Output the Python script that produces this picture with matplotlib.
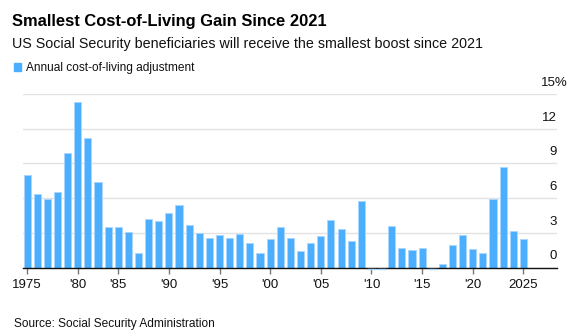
import matplotlib
matplotlib.use('Agg')
import matplotlib.pyplot as plt
from matplotlib.patches import Rectangle

plt.rcParams['font.family'] = ['Liberation Sans', 'DejaVu Sans']

# effective year of the adjustment (no adjustment took effect in 1983)
years = [1975, 1976, 1977, 1978, 1979, 1980, 1981, 1982,
         1984, 1985, 1986, 1987, 1988, 1989, 1990, 1991, 1992, 1993, 1994,
         1995, 1996, 1997, 1998, 1999, 2000, 2001, 2002, 2003, 2004, 2005,
         2006, 2007, 2008, 2009, 2010, 2011, 2012, 2013, 2014, 2015, 2016,
         2017, 2018, 2019, 2020, 2021, 2022, 2023, 2024, 2025]
cola = [8.0, 6.4, 5.9, 6.5, 9.9, 14.3, 11.2, 7.4,
        3.5, 3.5, 3.1, 1.3, 4.2, 4.0, 4.7, 5.4, 3.7, 3.0, 2.6,
        2.8, 2.6, 2.9, 2.1, 1.3, 2.5, 3.5, 2.6, 1.4, 2.1, 2.7,
        4.1, 3.3, 2.3, 5.8, 0.0, 0.0, 3.6, 1.7, 1.5, 1.7, 0.0,
        0.3, 2.0, 2.8, 1.6, 1.3, 5.9, 8.7, 3.2, 2.5]
yticks = [0, 3, 6, 9, 12, 15]

W, H = 580, 336
fig = plt.figure(figsize=(W / 100, H / 100), dpi=100)
ax = fig.add_axes([23 / W, (H - 267.7) / H, 534 / W, (267.7 - 94) / H])

idx = list(range(len(years)))
ax.bar(idx, cola, width=0.7, color='#4baeff', edgecolor='#a9d6ff',
       linewidth=0.7, zorder=3, clip_on=False)
# zero adjustments show as a faint dash just under the baseline
for i, v in zip(idx, cola):
    if v == 0:
        ax.plot([i - 0.35, i + 0.35], [-0.12, -0.12], color='#a9d6ff',
                linewidth=1.0, zorder=5, clip_on=False)

ax.set_xlim(-0.4, -0.4 + 534 / 10.13)
ax.set_ylim(0, 15)

for s in ['top', 'right', 'left']:
    ax.spines[s].set_visible(False)
ax.spines['bottom'].set_color('#111111')
ax.spines['bottom'].set_linewidth(1.0)
ax.spines['bottom'].set_zorder(4)

ax.set_yticks(yticks)
ax.set_yticklabels([])
ax.tick_params(axis='y', length=0)
ax.yaxis.grid(True, color='#e2e2e2', linewidth=1.0, zorder=0)
ax.set_axisbelow(True)

ytr = ax.get_yaxis_transform()
for v in yticks:
    lab = str(v) + ('%' if v == 15 else '')
    xr = 1.0 + (11 / 534 if v == 15 else 0)
    ax.text(xr, v + 0.45, lab, transform=ytr,
            ha='right', va='bottom', fontsize=9.5, color='#111111')

tpos, tlab = [], []
for i, y in enumerate(years):
    if y % 5 == 0:
        tpos.append(i)
        tlab.append(str(y) if y in (1975, 2025) else "'" + str(y)[2:])
ax.set_xticks(tpos)
ax.set_xticklabels(tlab, fontsize=9.5, color='#111111')
ax.tick_params(axis='x', length=4, width=1, color='#777777', pad=4)

fig.text(12.5 / W, 1 - 26 / H, 'Smallest Cost-of-Living Gain Since 2021',
         fontsize=11.9, fontweight='bold', va='baseline', color='#000000')
fig.text(12.5 / W, 1 - 47.7 / H,
         'US Social Security beneficiaries will receive the smallest boost since 2021',
         fontsize=10.3, va='baseline', color='#111111')
fig.patches.append(Rectangle((14 / W, 1 - 70.7 / H), 7 / W, 7.7 / H,
                             transform=fig.transFigure, color='#4baeff'))
fig.text(26 / W, 1 - 70.7 / H, 'Annual cost-of-living adjustment',
         fontsize=8.6, va='baseline', color='#111111')
fig.text(14 / W, 1 - 327 / H, 'Source: Social Security Administration',
         fontsize=8.6, va='baseline', color='#111111')

fig.savefig('out.png', dpi=100)
